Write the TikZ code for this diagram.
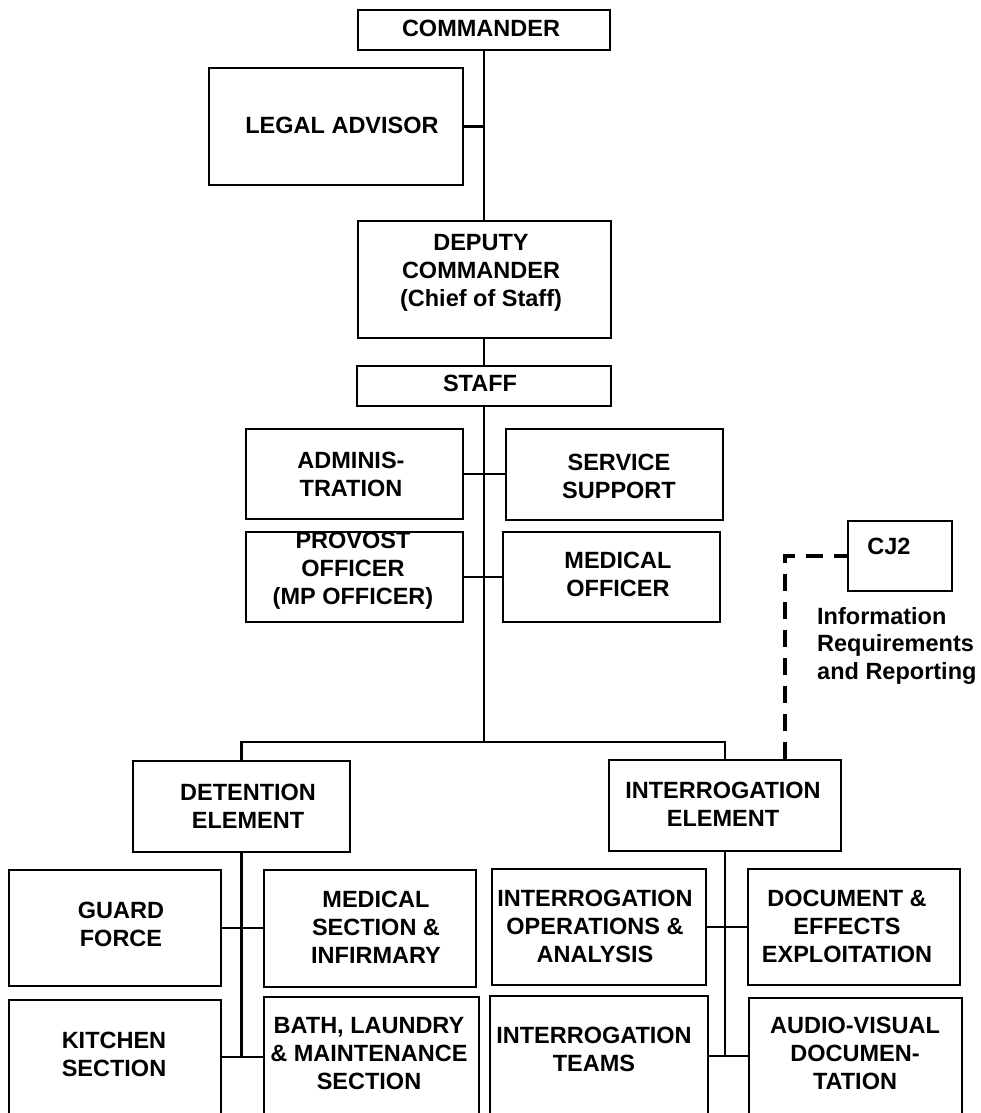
\documentclass[tikz,border=0pt]{standalone}
\usepackage{fontspec}
\setmainfont{Liberation Sans}
\usepackage{tikz}
\usetikzlibrary{
  calc,
  positioning
}
\tikzset{
  unit/.style={
    draw,
    line width=2pt,
    inner sep=0pt},
  txt/.style={
    align=center,
    inner sep=0pt,
    font=\bfseries\fontsize{23.5}{28}\selectfont},
  link/.style={
    line width=2.4pt},
  dashlink/.style={
    line width=3.6pt,
    dash pattern=on 17pt off 11pt}
  }

\begin{document}
\begin{tikzpicture}[x=1pt,y=-1pt]
    \useasboundingbox (0,0) rectangle (980,1113);
    \clip (0,0) rectangle (980,1113);
    % command group
    \node[unit, minimum width=252pt, minimum height=40pt] (commander) at (484,30) {};
    \node[unit, minimum width=254pt, minimum height=117pt] (legal) at (336,126.5) {};
    \node[unit, minimum width=253pt, minimum height=117pt] (deputy) at (484,279.5) {};
    \node[unit, minimum width=254pt, minimum height=40pt] (staff) at (484,386) {};
    \node[txt] (commander-t) at (481,28) {COMMANDER};
    \node[txt] (legal-t) at (342,125) {LEGAL ADVISOR};
    \node[txt] (deputy-t) at (481,273) {DEPUTY\\COMMANDER\\(Chief of Staff)};
    \node[txt] (staff-t) at (480,383) {STAFF};
    % staff sections
    \node[unit, minimum width=217pt, minimum height=90pt] (admin) at (354.5,474) {};
    \node[unit, minimum width=217pt, minimum height=91pt] (service) at (614.5,474) {};
    \node[unit, minimum width=217pt, minimum height=90pt] (provost) at (354.5,577) {};
    \node[unit, minimum width=217pt, minimum height=90pt] (medoff) at (611.5,577) {};
    \node[txt] (admin-t) at (351,474) {ADMINIS-\\TRATION};
    \node[txt] (service-t) at (619,476) {SERVICE\\SUPPORT};
    \node[txt] (provost-t) at (353,571) {PROVOST\\OFFICER\\(MP OFFICER)};
    \node[txt] (medoff-t) at (618,574) {MEDICAL\\OFFICER};
    % cj2
    \node[unit, minimum width=104pt, minimum height=70pt] (cjtwo) at (900,556) {};
    \node[txt] (cjtwo-t) at (889,546) {CJ2};
    \node[txt, align=left, anchor=north west, font=\bfseries\fontsize{23.5}{27.5}\selectfont]
      (info) at (817,607) {Information\\Requirements\\and Reporting};
    % elements
    \node[unit, minimum width=217pt, minimum height=91pt] (detention) at (241.5,806.5) {};
    \node[unit, minimum width=232pt, minimum height=91pt] (interr) at (725,805.5) {};
    \node[txt] (detention-t) at (248,806) {DETENTION\\ELEMENT};
    \node[txt] (interr-t) at (723,804) {INTERROGATION\\ELEMENT};
    % detention sections
    \node[unit, minimum width=212pt, minimum height=116pt] (guard) at (115,928) {};
    \node[unit, minimum width=212pt, minimum height=117pt] (medsec) at (370,928) {};
    \node[unit, minimum width=212pt, minimum height=118pt] (kitchen) at (115,1059) {};
    \node[unit, minimum width=215pt, minimum height=121pt] (bath) at (371.5,1057.5) {};
    \node[txt] (guard-t) at (121,924) {GUARD\\FORCE};
    \node[txt] (medsec-t) at (376,927) {MEDICAL\\SECTION \&\\INFIRMARY};
    \node[txt] (kitchen-t) at (114,1054) {KITCHEN\\SECTION};
    \node[txt] (bath-t) at (369,1054) {BATH, LAUNDRY\\\& MAINTENANCE\\SECTION};
    % interrogation sections
    \node[unit, minimum width=214pt, minimum height=116pt] (ops) at (599,927) {};
    \node[unit, minimum width=212pt, minimum height=116pt] (doc) at (854,927) {};
    \node[unit, minimum width=218pt, minimum height=122pt] (teams) at (599,1057) {};
    \node[unit, minimum width=213pt, minimum height=120pt] (audio) at (855.5,1058) {};
    \node[txt] (ops-t) at (595,926) {INTERROGATION\\OPERATIONS \&\\ANALYSIS};
    \node[txt] (doc-t) at (847,926) {DOCUMENT \&\\EFFECTS\\EXPLOITATION};
    \node[txt] (teams-t) at (594,1049) {INTERROGATION\\TEAMS};
    \node[txt] (audio-t) at (855,1053) {AUDIO-VISUAL\\DOCUMEN-\\TATION};
    \coordinate (bar) at (484,742);
    \coordinate (dfoot) at (241.5,1057);
    \coordinate (ifoot) at (725,1056);
    \draw [link]
    (commander) -- (deputy)
    (legal) -- (legal -| commander)
    (deputy) -- (staff)
    (staff) -- (bar)
    (admin) -- (service)
    (provost) -- (medoff)
    (detention) |- (bar) -| (interr)
    (detention) -- (dfoot)
    (guard) -- (medsec)
    (kitchen.east |- dfoot) -- (bath.west |- dfoot)
    (interr) -- (ifoot)
    (ops) -- (doc)
    (teams.east |- ifoot) -- (audio.west |- ifoot);
    \draw [dashlink] ([xshift=60pt]interr.north) |- (cjtwo);
\end{tikzpicture}
\end{document}
